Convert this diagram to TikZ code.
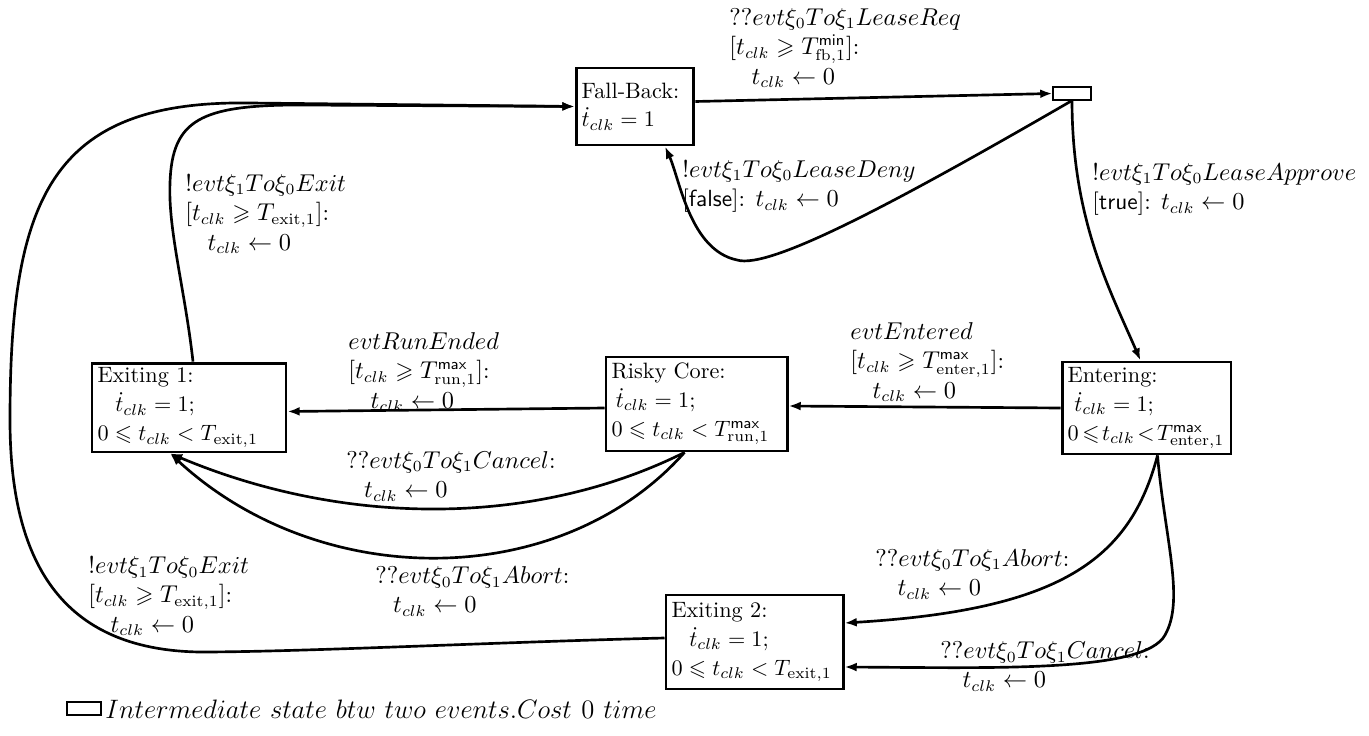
\documentclass[tikz,border=0pt]{standalone}
\usepackage{amsmath,amssymb}
\usetikzlibrary{arrows.meta,calc}

\begin{document}
\begin{tikzpicture}[x=0.45pt,y=-0.45pt,
  state/.style={draw,line width=1.3pt,align=left,inner xsep=2.5pt,inner ysep=1pt,
                font=\fontsize{10}{13}\selectfont},
  inter/.style={draw,line width=0.5pt,minimum width=17.1pt,minimum height=5.85pt,inner sep=0pt},
  lbl/.style={anchor=north west,inner sep=0pt,align=left,font=\fontsize{10.5}{13.2}\selectfont},
  tr/.style={line width=1.2pt,-{Latex[length=5.5pt,width=4pt]}},
]
\useasboundingbox (0,0) rectangle (1369,735);

% states
\node[state,text width=48pt,minimum height=34.65pt] (fb) at (635,106.5)
  {Fall-Back:\\$\dot{t}_{clk}=1$};
\node[inter] (int) at (1072,93.5) {};
\node[state,text width=71pt,minimum height=41.4pt] (ent) at (1146.5,408)
  {Entering:\\\hspace*{3pt}$\dot{t}_{clk}=1;$\\$0\mskip-2mu\leqslant\mskip-3mu t_{clk}\mskip-3mu<\mskip-3mu T^{\mathsf{max}}_{\mathrm{enter},1}$};
\node[state,text width=76.5pt,minimum height=42.3pt] (risky) at (696.5,404)
  {Risky Core:\\\hspace*{2pt}$\dot{t}_{clk}=1;$\\$0\leqslant t_{clk}<T^{\mathsf{max}}_{\mathrm{run},1}$};
\node[state,text width=82.3pt,minimum height=40pt] (e1) at (189,407.5)
  {Exiting 1:\\\hspace*{8pt}$\dot{t}_{clk}=1;$\\$0\leqslant t_{clk}<T_{\mathrm{exit},1}$};
\node[state,text width=74.7pt,minimum height=42.3pt] (e2) at (754.5,642)
  {Exiting 2:\\\hspace*{8pt}$\dot{t}_{clk}=1;$\\$0\leqslant t_{clk}<T_{\mathrm{exit},1}$};

% transitions
\draw[tr] ($(fb.east)+(0,-5)$) -- (int.west);
\draw[tr] (int.south) .. controls (900,200) and (770,270) .. (737,260)
  .. controls (690,250) and (680,180) .. ($(fb.south)+(30,0)$);
\draw[tr] (int.south) .. controls (1072,220) and (1110,290) .. ($(ent.north)+(-6,0)$);
\draw[tr] (ent.west) -- ($(risky.east)+(0,2)$);
\draw[tr] ($(risky.west)+(0,4)$) -- ($(e1.east)+(0,4)$);
\draw[tr] ($(risky.south)+(-12,0)$) .. controls (535,527) and (345,527) .. ($(e1.south)+(-19,0)$);
\draw[tr] ($(risky.south)+(-12,0)$) .. controls (560,592) and (320,592) .. ($(e1.south)+(-19,0)$);
\draw[tr] ($(e1.north)+(4,0)$) .. controls (185,290) and (168,230) .. (170,183)
  .. controls (172,120) and (200,105) .. (300,105) -- (fb.west);
\draw[tr] ($(e2.west)+(0,-4)$) .. controls (500,642) and (300,652) .. (200,652)
  .. controls (60,650) and (10,560) .. (10,420)
  .. controls (10,200) and (50,100) .. (250,103) -- (fb.west);
\draw[tr] ($(ent.south)+(11,0)$) .. controls (1130,560) and (1060,610) .. ($(e2.east)+(0,-19)$);
\draw[tr] ($(ent.south)+(11,0)$) .. controls (1165,540) and (1185,600) .. (1165,635)
  .. controls (1145,672) and (1000,668) .. ($(e2.east)+(0,25)$);

% transition labels
\node[lbl] (lreq) at (729,8)
  {$??evt\xi_0To\xi_1LeaseReq$\\$[t_{clk}\geqslant T^{\mathsf{min}}_{\mathrm{fb},1}]$:\\\hspace*{10pt}$t_{clk}\leftarrow 0$};
\node[lbl] (ldeny) at (682,160)
  {$!evt\xi_1To\xi_0LeaseDeny$\\{}[\textsf{false}]: $t_{clk}\leftarrow 0$};
\node[lbl] (lappr) at (1092,163)
  {$!evt\xi_1To\xi_0LeaseApprove$\\{}[\textsf{true}]: $t_{clk}\leftarrow 0$};
\node[lbl] (lexit1) at (185,174)
  {$!evt\xi_1To\xi_0Exit$\\$[t_{clk}\geqslant T_{\mathrm{exit},1}]$:\\\hspace*{10pt}$t_{clk}\leftarrow 0$};
\node[lbl] (lrun) at (348,332)
  {$evtRunEnded$\\$[t_{clk}\geqslant T^{\mathsf{max}}_{\mathrm{run},1}]$:\\\hspace*{10pt}$t_{clk}\leftarrow 0$};
\node[lbl] (lent) at (850,322)
  {$evtEntered$\\$[t_{clk}\geqslant T^{\mathsf{max}}_{\mathrm{enter},1}]$:\\\hspace*{10pt}$t_{clk}\leftarrow 0$};
\node[lbl] (lcan1) at (346,451)
  {$??evt\xi_0To\xi_1Cancel$:\\\hspace*{8pt}$t_{clk}\leftarrow 0$};
\node[lbl] (labo1) at (375,566)
  {$??evt\xi_0To\xi_1Abort$:\\\hspace*{8pt}$t_{clk}\leftarrow 0$};
\node[lbl] (lexit2) at (88,556)
  {$!evt\xi_1To\xi_0Exit$\\$[t_{clk}\geqslant T_{\mathrm{exit},1}]$:\\\hspace*{10pt}$t_{clk}\leftarrow 0$};
\node[lbl] (labo2) at (875,549)
  {$??evt\xi_0To\xi_1Abort$:\\\hspace*{10pt}$t_{clk}\leftarrow 0$};
\node[lbl] (lcan2) at (940,641)
  {$??evt\xi_0To\xi_1Cancel$:\\\hspace*{10pt}$t_{clk}\leftarrow 0$};

% legend
\node[inter,minimum width=15.3pt] (legbox) at (84,708.5) {};
\node[anchor=west,inner sep=0pt,font=\fontsize{12.3}{14}\selectfont] (legtxt) at (105,709)
  {$Intermediate\ state\ btw\ two\ events.Cost\ 0\ time$};
\end{tikzpicture}
\end{document}
